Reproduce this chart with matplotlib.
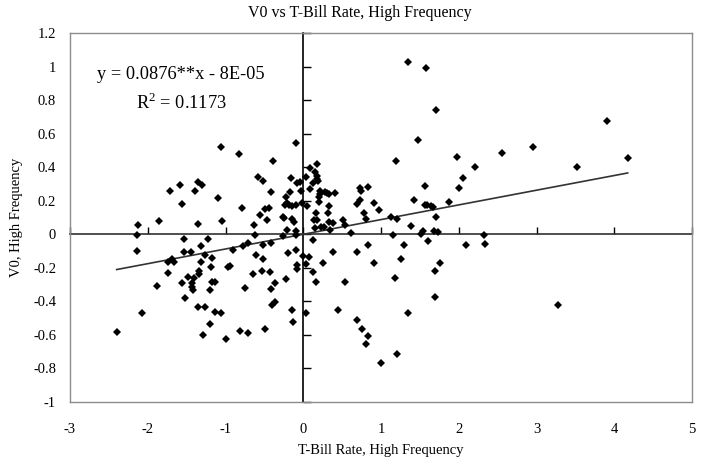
"""
V0 vs T-Bill rate (high frequency) scatter with linear trendline,
drawn in the old Excel chart style: axes crossing at zero, labels at the frame.
"""

import matplotlib
matplotlib.use("Agg")
import matplotlib.pyplot as plt

plt.rcParams["font.family"] = ["Liberation Serif", "DejaVu Serif"]
plt.rcParams["mathtext.fontset"] = "custom"
plt.rcParams["mathtext.rm"] = "Liberation Serif"

# --- Data -----------------------------------------------------------------

tbill_x = [
    -2.40, -2.13, -2.14, -2.14, -2.07, -1.88, -1.85, -1.74, -1.72, -1.74,
    -1.69, -1.66, -1.58, -1.56, -1.56, -1.53, -1.53, -1.52, -1.48, -1.44,
    -1.43, -1.41, -1.43, -1.42, -1.39, -1.35, -1.30, -1.36, -1.35, -1.27,
    -1.34, -1.34, -1.32, -1.32, -1.29, -1.27, -1.22, -1.20, -1.19, -1.18,
    -1.20, -1.17, -1.135, -1.135, -1.10, -1.06, -1.05, -1.06, -1.00, -0.964,
    -0.938, -0.90, -0.82, -0.79, -0.81, -0.77, -0.745, -0.715, -0.707, -0.642,
    -0.633, -0.621, -0.612, -0.586, -0.552, -0.531, -0.522, -0.522, -0.514, -0.492,
    -0.488, -0.462, -0.437, -0.424, -0.415, -0.415, -0.415, -0.406, -0.385, -0.363,
    -0.363, -0.26, -0.252, -0.257, -0.24, -0.226, -0.21, -0.213, -0.218, -0.196,
    -0.18, -0.166, -0.158, -0.149, -0.149, -0.149, -0.136, -0.115, -0.093, -0.089,
    -0.089, -0.089, -0.089, -0.077, -0.077, -0.077, -0.042, -0.029, -0.02, -0.007,
    0.031, 0.035, 0.039, 0.048, 0.074, 0.083, 0.091, 0.121, 0.129, 0.129,
    0.142, 0.151, 0.155, 0.16, 0.168, 0.173, 0.173, 0.175, 0.18, 0.195,
    0.206, 0.206, 0.215, 0.22, 0.228, 0.25, 0.267, 0.28, 0.301, 0.318,
    0.331, 0.331, 0.335, 0.344, 0.378, 0.386, 0.408, 0.451, 0.515, 0.537,
    0.537, 0.61, 0.687, 0.695, 0.695, 0.726, 0.734, 0.743, 0.756, 0.785,
    0.807, 0.807, 0.828, 0.837, 0.837, 0.906, 0.914, 0.974, 0.996, 1.133,
    1.154, 1.176, 1.193, 1.202, 1.206, 1.262, 1.296, 1.351, 1.351, 1.382,
    1.424, 1.472, 1.514, 1.545, 1.57, 1.57, 1.579, 1.588, 1.609, 1.643,
    1.673, 1.682, 1.691, 1.691, 1.707, 1.707, 1.737, 1.759, 1.87, 1.978,
    2.008, 2.055, 2.093, 2.213, 2.325, 2.334, 2.56, 2.959, 3.281, 3.517,
    3.911, 4.173,
]

v0_y = [
    -0.583, 0.054, -0.006, -0.098, -0.471, -0.306, 0.081, -0.233, 0.26, -0.163,
    -0.149, -0.163, 0.294, 0.179, -0.292, -0.03, -0.107, -0.378, -0.255, -0.107,
    -0.292, -0.262, -0.312, -0.334, 0.256, 0.312, 0.294, 0.061, -0.432, -0.434,
    -0.217, -0.235, -0.07, -0.167, -0.60, -0.125, -0.028, -0.537, -0.197, -0.141,
    -0.334, -0.283, -0.283, -0.465, 0.215, 0.519, 0.078, -0.471, -0.622, -0.195,
    -0.191, -0.094, 0.477, 0.159, -0.575, -0.07, -0.32, -0.587, -0.05, -0.237,
    0.054, -0.006, -0.122, 0.34, 0.117, -0.219, -0.066, -0.145, 0.32, -0.563,
    0.153, 0.085, 0.159, -0.225, 0.252, -0.054, -0.326, -0.42, 0.435, -0.289,
    -0.404, 0.105, 0.095, -0.008, 0.173, 0.224, 0.185, 0.026, -0.265, -0.11,
    0.177, 0.252, 0.334, 0.171, 0.089, -0.453, -0.525, 0.075, 0.021, 0.546,
    0.173, -0.004, -0.096, 0.304, -0.183, -0.205, 0.31, 0.256, 0.188, -0.127,
    -0.179, -0.471, 0.34, 0.171, -0.133, 0.27, 0.394, -0.034, 0.304, -0.223,
    0.087, 0.039, 0.37, -0.286, 0.127, 0.419, 0.085, 0.35, 0.33, 0.315,
    0.224, 0.191, 0.258, 0.24, 0.045, -0.173, 0.044, 0.254, 0.248, 0.127,
    0.169, 0.075, 0.24, 0.026, -0.107, 0.066, 0.248, -0.453, 0.085, 0.054,
    -0.283, 0.01, -0.104, 0.179, -0.509, 0.205, 0.274, 0.26, -0.563, 0.129,
    0.089, -0.654, -0.062, 0.284, -0.605, -0.173, 0.188, 0.145, -0.769, 0.105,
    -0.002, -0.262, 0.437, -0.714, 0.089, -0.149, -0.062, 1.029, -0.471, 0.049,
    0.205, 0.561, 0.0, 0.021, 0.288, 0.173, 0.993, 0.177, -0.04, 0.169,
    0.165, 0.021, -0.217, -0.372, 0.743, 0.105, 0.016, -0.169, 0.191, 0.459,
    0.274, 0.334, -0.066, 0.40, -0.006, -0.056, 0.487, 0.522, -0.42, 0.40,
    0.676, 0.455,
]

# Trendline as reported on the chart
TREND_SLOPE = 0.0876
TREND_INTERCEPT = -8e-05

x_ticks = [-3, -2, -1, 0, 1, 2, 3, 4, 5]
x_tick_labels = ["-3", "-2", "-1", "0", "1", "2", "3", "4", "5"]
y_ticks = [-1.0, -0.8, -0.6, -0.4, -0.2, 0.0, 0.2, 0.4, 0.6, 0.8, 1.0, 1.2]
y_tick_labels = ["-1", "-0.8", "-0.6", "-0.4", "-0.2", "0", "0.2", "0.4",
                 "0.6", "0.8", "1", "1.2"]

X_MIN, X_MAX = -3, 5
Y_MIN, Y_MAX = -1.0, 1.2


# --- Chart -----------------------------------------------------------------

def main():
    fig = plt.figure(figsize=(7.13, 4.66), dpi=100)
    ax = fig.add_axes([70 / 713, 64 / 466, 622 / 713, 369 / 466])

    ax.set_xlim(X_MIN, X_MAX)
    ax.set_ylim(Y_MIN, Y_MAX)

    # frame of the plot area
    for side in ["left", "right", "top", "bottom"]:
        ax.spines[side].set_color("#8c8c8c")
        ax.spines[side].set_linewidth(1.0)

    # labels sit at the frame, no tick marks there
    ax.set_xticks(x_ticks)
    ax.set_xticklabels(x_tick_labels)
    ax.set_yticks(y_ticks)
    ax.set_yticklabels(y_tick_labels)
    ax.tick_params(axis="x", length=0, pad=15, labelsize=10.5)
    ax.tick_params(axis="y", length=0, pad=10, labelsize=10.5)

    # axis lines crossing at zero, with their tick marks
    x_zero = (0 - X_MIN) / (X_MAX - X_MIN)
    y_zero = (0 - Y_MIN) / (Y_MAX - Y_MIN)
    sec_y = ax.secondary_yaxis(x_zero)
    sec_y.set_yticks(y_ticks)
    sec_y.tick_params(direction="in", length=6, width=1, labelleft=False,
                      labelright=False, color="black")
    sec_y.spines["left"].set_color("black")
    sec_y.spines["left"].set_linewidth(1.2)

    sec_x = ax.secondary_xaxis(y_zero)
    sec_x.set_xticks(x_ticks)
    sec_x.tick_params(direction="in", length=5, width=1, labelbottom=False,
                      labeltop=False, color="black")
    sec_x.spines["bottom"].set_color("#303030")
    sec_x.spines["bottom"].set_linewidth(1.2)

    # points
    ax.plot(tbill_x, v0_y, linestyle="none", marker="D", markersize=4.2,
            markeredgewidth=0, color="black", zorder=3)

    # trendline over the range of the data
    x_lo, x_hi = min(tbill_x), max(tbill_x)
    ax.plot([x_lo, x_hi],
            [TREND_SLOPE * x_lo + TREND_INTERCEPT, TREND_SLOPE * x_hi + TREND_INTERCEPT],
            color="#333333", linewidth=1.2, zorder=2)

    ax.text(-1.57, 0.95, "y = 0.0876**x - 8E-05", ha="center", va="center",
            fontsize=13.2)
    ax.text(-1.57, 0.78, "R$^{2}$ = 0.1173", ha="center", va="center",
            fontsize=13.2)

    fig.text(0.505, 0.972, "V0 vs T-Bill Rate, High Frequency", ha="center",
             va="center", fontsize=11.5)
    ax.set_xlabel("T-Bill Rate, High Frequency", fontsize=10.5, labelpad=6)
    ax.set_ylabel("V0, High Frequency", fontsize=10.5, labelpad=7)

    fig.savefig("out.png", dpi=100)
    plt.close(fig)


if __name__ == "__main__":
    main()
